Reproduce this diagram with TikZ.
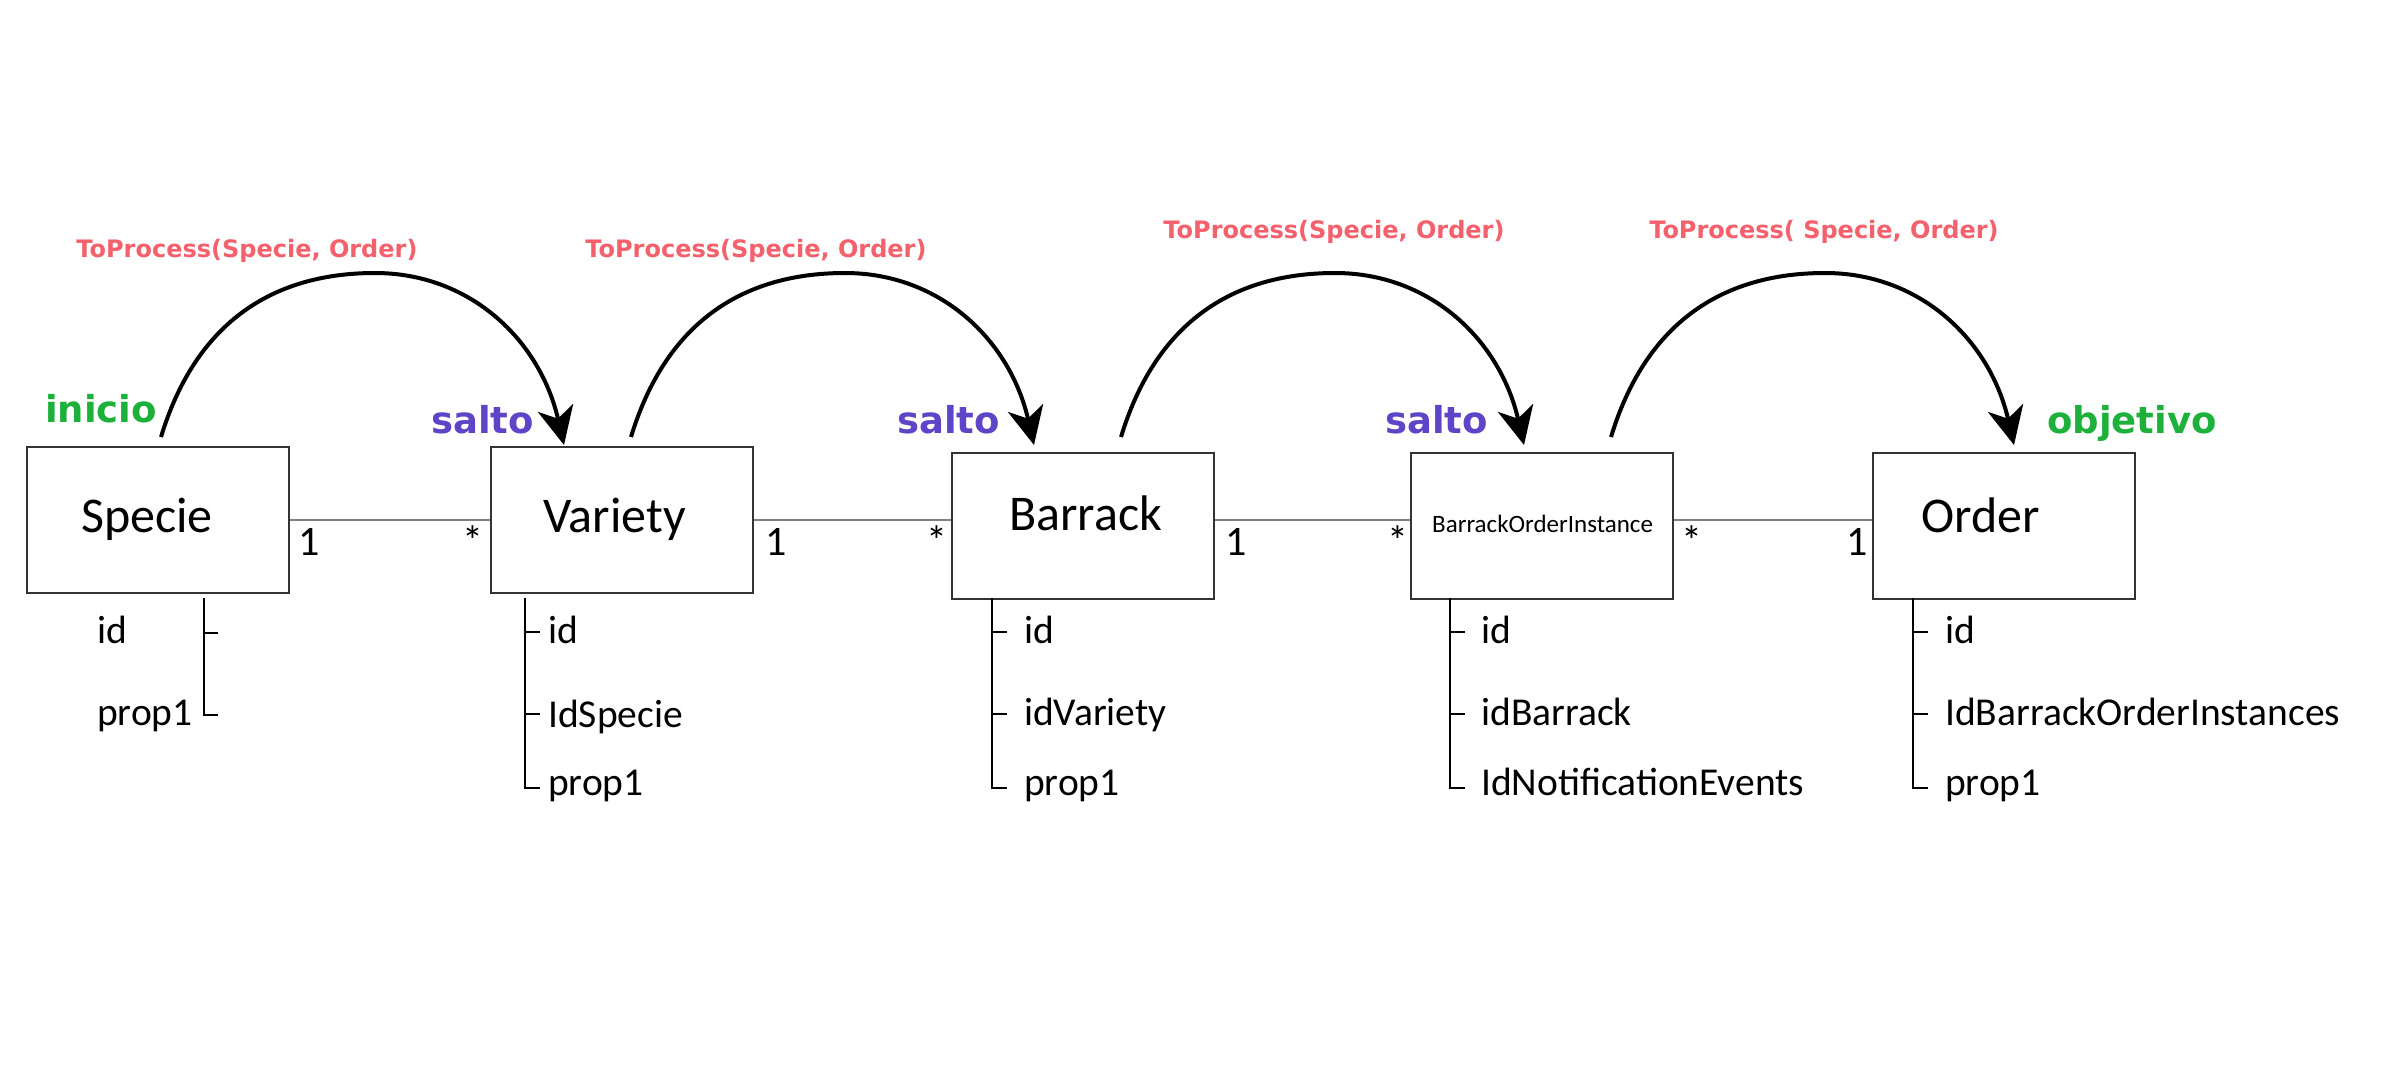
\documentclass[tikz,border=0pt]{standalone}
\usepackage{fontspec}
\setmainfont{Carlito}
\newfontfamily\dvb{DejaVu Sans Bold}
\usetikzlibrary{arrows.meta,calc}
\definecolor{procred}{RGB}{244,96,107}
\definecolor{startgreen}{RGB}{29,176,58}
\definecolor{hoppurple}{RGB}{94,69,200}
\begin{document}
\begin{tikzpicture}[x=1pt,y=-1pt,
  box/.style={draw=black!80,line width=2pt,minimum width=262pt,minimum height=146pt,inner sep=0pt,anchor=north west},
  title/.style={anchor=base west,inner sep=0pt,font=\fontsize{50}{60}\selectfont},
  smalltitle/.style={anchor=base west,inner sep=0pt,font=\fontsize{25}{30}\selectfont},
  attr/.style={anchor=base west,inner sep=0pt,font=\fontsize{39.5}{48}\selectfont},
  mult/.style={anchor=base west,inner sep=0pt,font=\fontsize{42}{50}\selectfont},
  assoc/.style={draw=black!50,line width=2pt},
  tree/.style={draw=black,line width=2pt},
  hop/.style={draw=black,line width=4pt,-{Stealth[length=38pt,width=36pt,inset=11pt]}},
  proc/.style={anchor=base,inner sep=0pt,text=procred,font=\dvb\fontsize{24}{29}\selectfont},
  tag/.style={anchor=base west,inner sep=0pt,font=\dvb\fontsize{37}{44}\selectfont}]
\fill[white] (0,0) rectangle (2396,1080);
\useasboundingbox (0,0) rectangle (2396,1080);

% boxes
\node[box] (specie) at (26,446) {};
\node[box] (variety) at (490,446) {};
\node[box] (barrack) at (951,452) {};
\node[box] (boi) at (1410,452) {};
\node[box] (order) at (1872,452) {};

\node[title] (tspecie) at (81,532) {Specie};
\node[title] (tvariety) at (543,532) {Variety};
\node[title] (tbarrack) at (1009,530) {Barrack};
\node[smalltitle] (tboi) at (1432,532) {BarrackOrderInstance};
\node[title] (torder) at (1921,532) {Order};

% associations
\draw[assoc] (specie.east) -- (variety.west);
\draw[assoc] (variety.east) -- (barrack.west |- variety.east);
\draw[assoc] (barrack.east |- variety.east) -- (boi.west |- variety.east);
\draw[assoc] (boi.east |- variety.east) -- (order.west |- variety.east);

\node[mult] (m1a) at (298,555) {1};
\node[mult] (m1b) at (462,555) {*};
\node[mult] (m2a) at (765,555) {1};
\node[mult] (m2b) at (926,555) {*};
\node[mult] (m3a) at (1225,555) {1};
\node[mult] (m3b) at (1387,555) {*};
\node[mult] (m4a) at (1681,555) {*};
\node[mult] (m4b) at (1846,555) {1};

% attribute trees
\draw[tree] (204,598) -- (204,715) -- (218,715);
\draw[tree] (204,633) -- (218,633);
\node[attr] (aS1) at (97,643) {id};
\node[attr] (aS2) at (97,725) {prop1};

\foreach \x/\nm in {525/v,992/b,1450/o,1913/r}{
  \draw[tree] (\x,598) -- (\x,788) -- (\x+15,788);
  \draw[tree] (\x,632) -- (\x+15,632);
  \draw[tree] (\x,714) -- (\x+15,714);
}
\node[attr] (aV1) at (548,643) {id};
\node[attr] (aV2) at (548,727) {IdSpecie};
\node[attr] (aV3) at (548,795) {prop1};

\node[attr] (aB1) at (1024,643) {id};
\node[attr] (aB2) at (1024,725) {idVariety};
\node[attr] (aB3) at (1024,795) {prop1};

\node[attr] (aI1) at (1481,643) {id};
\node[attr] (aI2) at (1481,725) {idBarrack};
\node[attr] (aI3) at (1481,795) {IdNotificationEvents};

\node[attr] (aO1) at (1945,643) {id};
\node[attr] (aO2) at (1945,725) {IdBarrackOrderInstances};
\node[attr] (aO3) at (1945,795) {prop1};

% hops
\foreach \o/\n in {0/1,470/2,960/3,1450/4}{
  \coordinate (hs\n) at (161+\o,437);
  \coordinate (hp\n) at (375+\o,273);
  \coordinate (he\n) at (564+\o,445);
  \draw[hop] (hs\n) .. controls +(34,-112) and +(-105,0) .. (hp\n) .. controls +(95,0) and +(-24,-105) .. (he\n);
}

\node[proc] (p1) at (247,257) {ToProcess(Specie, Order)};
\node[proc] (p2) at (756,257) {ToProcess(Specie, Order)};
\node[proc] (p3) at (1334,238) {ToProcess(Specie, Order)};
\node[proc] (p4) at (1824,238) {ToProcess( Specie, Order)};

\node[tag,text=startgreen] (ini) at (45,422) {inicio};
\node[tag,text=hoppurple] (s1) at (431,433) {salto};
\node[tag,text=hoppurple] (s2) at (897,433) {salto};
\node[tag,text=hoppurple] (s3) at (1385,433) {salto};
\node[tag,text=startgreen] (obj) at (2047,433) {objetivo};
\end{tikzpicture}
\end{document}
